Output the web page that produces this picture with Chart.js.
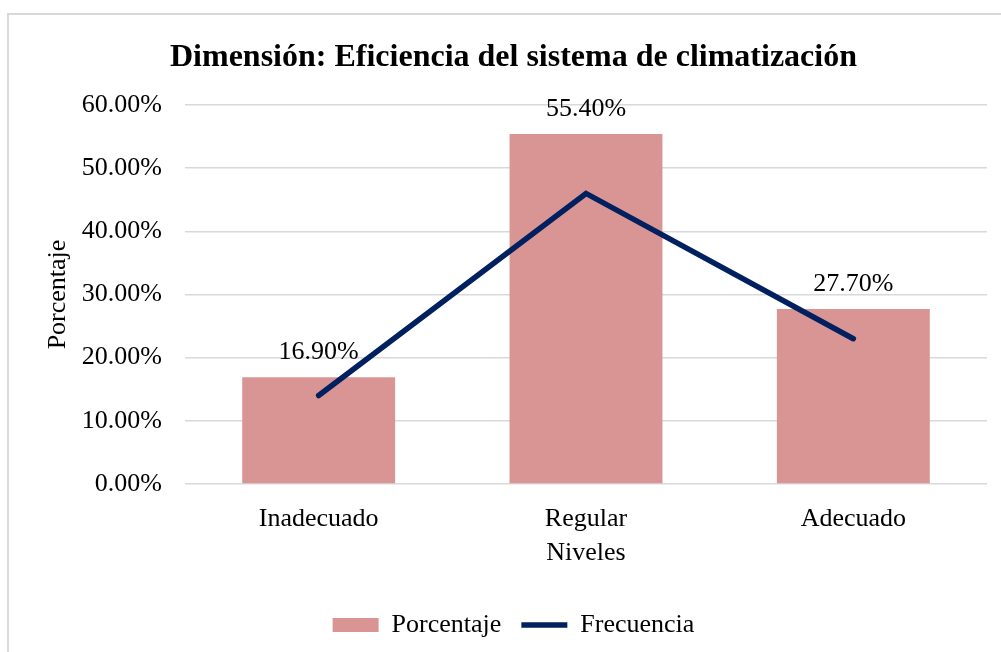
<!DOCTYPE html>
<html>
<head>
<meta charset="utf-8">
<script src="https://cdn.jsdelivr.net/npm/chart.js@4/dist/chart.umd.min.js"></script>
<style>
  html, body { margin: 0; padding: 0; background: #ffffff; }
  #wrap { position: relative; width: 1001px; height: 652px; overflow: hidden; }
  #frame { position: absolute; left: 7px; top: 13px; width: 1000px; height: 700px;
           border-left: 2px solid #d9d9d9; border-top: 2px solid #d9d9d9; pointer-events: none; }
  canvas { position: absolute; left: 0; top: 0; }
</style>
</head>
<body>
<div id="wrap">
  <canvas id="c" width="1001" height="652"></canvas>
  <div id="frame"></div>
</div>
<script>
const categories = ['Inadecuado', 'Regular', 'Adecuado'];
const porcentaje = [16.9, 55.4, 27.7];
const frecuencia = [14, 46, 23];
const yTickValues = [0, 10, 20, 30, 40, 50, 60];
const chartTitle = 'Dimensión: Eficiencia del sistema de climatización';
const xTitle = 'Niveles';
const yTitle = 'Porcentaje';
const seriesNames = ['Porcentaje', 'Frecuencia'];

const SERIF = "'Liberation Serif', 'Times New Roman', serif";
const BAR_COLOR = '#D99594';
const LINE_COLOR = '#002060';
const FS = 26;

const valueLabels = {
  id: 'valueLabels',
  afterDatasetsDraw(chart) {
    const ctx = chart.ctx;
    const meta = chart.getDatasetMeta(0);
    ctx.save();
    ctx.font = FS + 'px ' + SERIF;
    ctx.fillStyle = '#000000';
    ctx.textAlign = 'center';
    ctx.textBaseline = 'middle';
    meta.data.forEach((bar, i) => {
      ctx.fillText(porcentaje[i].toFixed(2) + '%', bar.x, bar.y - 25);
    });
    ctx.restore();
  }
};

new Chart(document.getElementById('c'), {
  data: {
    labels: categories,
    datasets: [
      {
        type: 'bar',
        label: seriesNames[0],
        data: porcentaje,
        backgroundColor: BAR_COLOR,
        borderWidth: 0,
        barPercentage: 0.572,
        categoryPercentage: 1.0,
        order: 2,
        pointStyle: 'rect'
      },
      {
        type: 'line',
        label: seriesNames[1],
        data: frecuencia,
        borderColor: LINE_COLOR,
        backgroundColor: LINE_COLOR,
        borderWidth: 5.5,
        borderCapStyle: 'round',
        tension: 0,
        pointRadius: 0,
        pointHoverRadius: 0,
        fill: false,
        order: 1,
        pointStyle: 'line'
      }
    ]
  },
  options: {
    responsive: false,
    animation: false,
    events: [],
    layout: { padding: { left: 40, right: 14, top: 0, bottom: 4 } },
    plugins: {
      title: {
        display: true,
        text: chartTitle,
        color: '#000000',
        font: { family: SERIF, size: 32, weight: 'bold' },
        padding: { top: 39, bottom: 27.6 }
      },
      legend: {
        display: true,
        position: 'bottom',
        labels: {
          color: '#000000',
          font: { family: SERIF, size: FS },
          usePointStyle: true,
          pointStyleWidth: 46,
          boxHeight: 14,
          padding: 20,
          sort: (a, b) => a.datasetIndex - b.datasetIndex
        }
      },
      tooltip: { enabled: false }
    },
    scales: {
      x: {
        grid: { display: false },
        border: { display: false },
        ticks: { color: '#000000', font: { family: SERIF, size: FS }, padding: 12 },
        title: { display: true, text: xTitle, color: '#000000', font: { family: SERIF, size: FS }, padding: { top: 0, bottom: 23 } },
        afterFit(scale) { scale.height = 108; }
      },
      y: {
        min: 0,
        max: 60,
        afterBuildTicks(scale) { scale.ticks = yTickValues.map(v => ({ value: v })); },
        grid: { color: '#d9d9d9', lineWidth: 1.5, drawTicks: false },
        border: { display: false },
        ticks: {
          color: '#000000',
          font: { family: SERIF, size: FS },
          padding: 23,
          callback: (v) => v.toFixed(2) + '%'
        },
        title: { display: true, text: yTitle, color: '#000000', font: { family: SERIF, size: FS }, padding: { top: 3, bottom: 0 } },
        afterFit(scale) { scale.width = 145; }
      }
    }
  },
  plugins: [valueLabels]
});
</script>
</body>
</html>
